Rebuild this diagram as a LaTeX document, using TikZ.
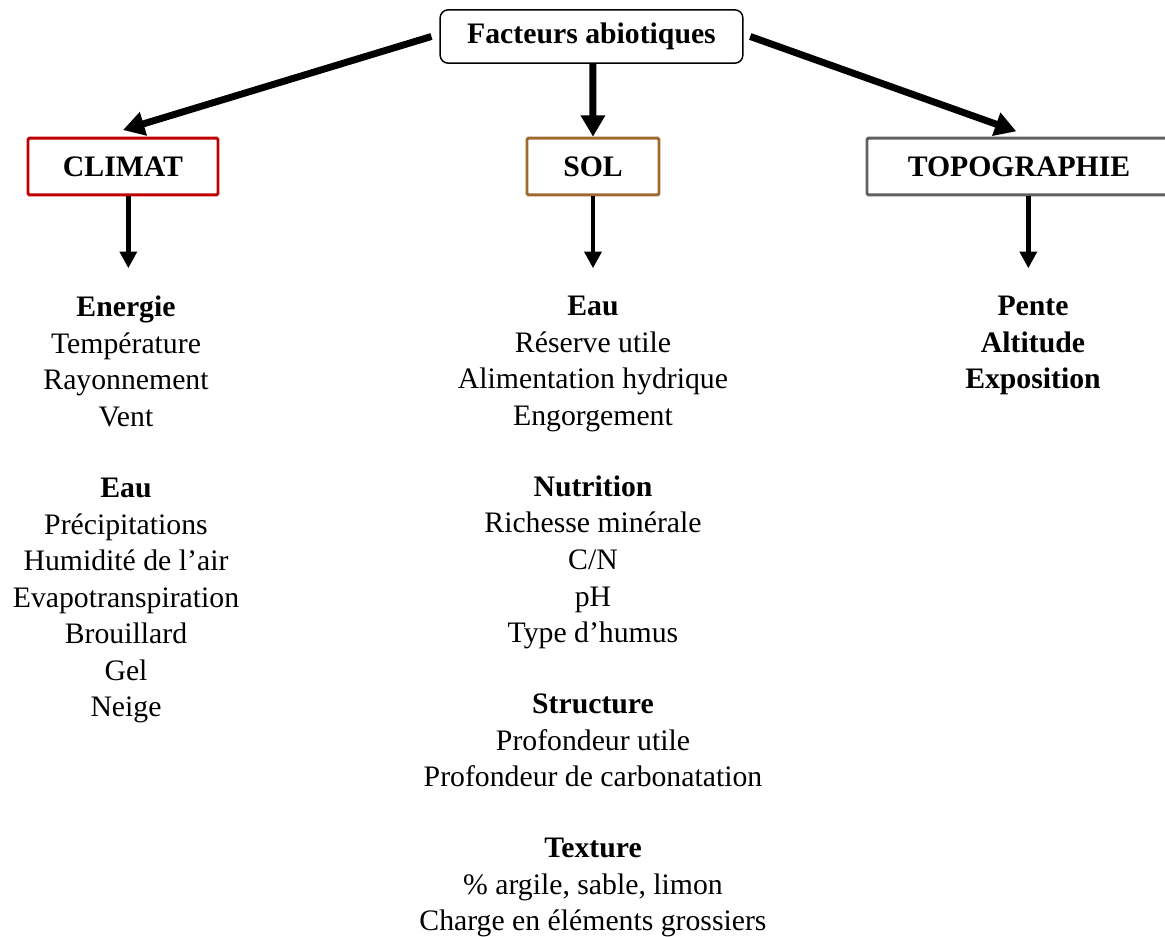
\documentclass[tikz,border=0pt]{standalone}
\usepackage{fontspec}
\setmainfont{Liberation Serif}
\usepackage{xcolor}
\usepackage{tikz}
\usetikzlibrary{arrows.meta, positioning}
\definecolor{climatred}{HTML}{C00000}
\definecolor{solbrown}{HTML}{A0692F}
\definecolor{topogray}{HTML}{606060}
\newcommand{\txt}{\fontsize{22.3}{27.4}\selectfont}

\begin{document}
\begin{tikzpicture}[
   x=0.75pt, y=-0.75pt,
   root/.style={draw, line width=1.1pt, rounded corners=6pt, align=center,
                font=\txt\bfseries, minimum width=227pt, minimum height=40pt},
   cat/.style={draw, line width=2.2pt, rounded corners=1pt, align=center,
               font=\txt\bfseries, minimum height=42.5pt},
   list/.style={align=center, font=\txt, inner sep=0pt, anchor=north},
   bigarr/.style={line width=5.2pt, -{Triangle[length=16pt, width=17.5pt]}},
   arr/.style={line width=3.6pt, -{Triangle[length=12.5pt, width=12.5pt]}}]

  \useasboundingbox (0,0) rectangle (1165,937);

  \node[root] (facteurs) at (591.5,36.5) {Facteurs abiotiques};

  \node[cat, draw=climatred, minimum width=142.5pt] (climat) at (123,166.5) {CLIMAT};
  \node[cat, draw=solbrown, minimum width=99pt] (sol) at (593,166.5) {SOL};
  \node[cat, draw=topogray, minimum width=228pt] (topo) at (1019,166.5) {TOPOGRAPHIE};

  % contenu des trois colonnes
  \node[list] (climatlist) at (126,296)
       {\textbf{Energie}\\Température\\Rayonnement\\Vent\\[25.9pt]
        \textbf{Eau}\\Précipitations\\Humidité de l’air\\Evapotranspiration\\
        Brouillard\\Gel\\Neige};
  \node[list] (sollist) at (593,296)
       {\textbf{Eau}\\Réserve utile\\Alimentation hydrique\\Engorgement\\[25.9pt]
        \textbf{Nutrition}\\Richesse minérale\\C/N\\pH\\Type d’humus\\[25.9pt]
        \textbf{Structure}\\Profondeur utile\\Profondeur de carbonatation\\[25.9pt]
        \textbf{Texture}\\\% argile, sable, limon\\Charge en éléments grossiers};
  \node[list] (topolist) at (1033,296)
       {\textbf{Pente}\\\textbf{Altitude}\\\textbf{Exposition}};

  \draw[bigarr] ([xshift=-6pt]facteurs.west) -- ([yshift=5pt]climat.north);
  \draw[bigarr] ([xshift=1pt]facteurs.south) -- (sol.north);
  \draw[bigarr] ([xshift=5pt]facteurs.east) -- ([xshift=-2pt, yshift=4pt]topo.north);

  \draw[arr] ([xshift=4pt]climat.south) -- ([xshift=4pt, yshift=-54pt]climat.south);
  \draw[arr] (sol.south) -- ([yshift=-54pt]sol.south);
  \draw[arr] ([xshift=7pt]topo.south) -- ([xshift=7pt, yshift=-54pt]topo.south);
\end{tikzpicture}
\end{document}
